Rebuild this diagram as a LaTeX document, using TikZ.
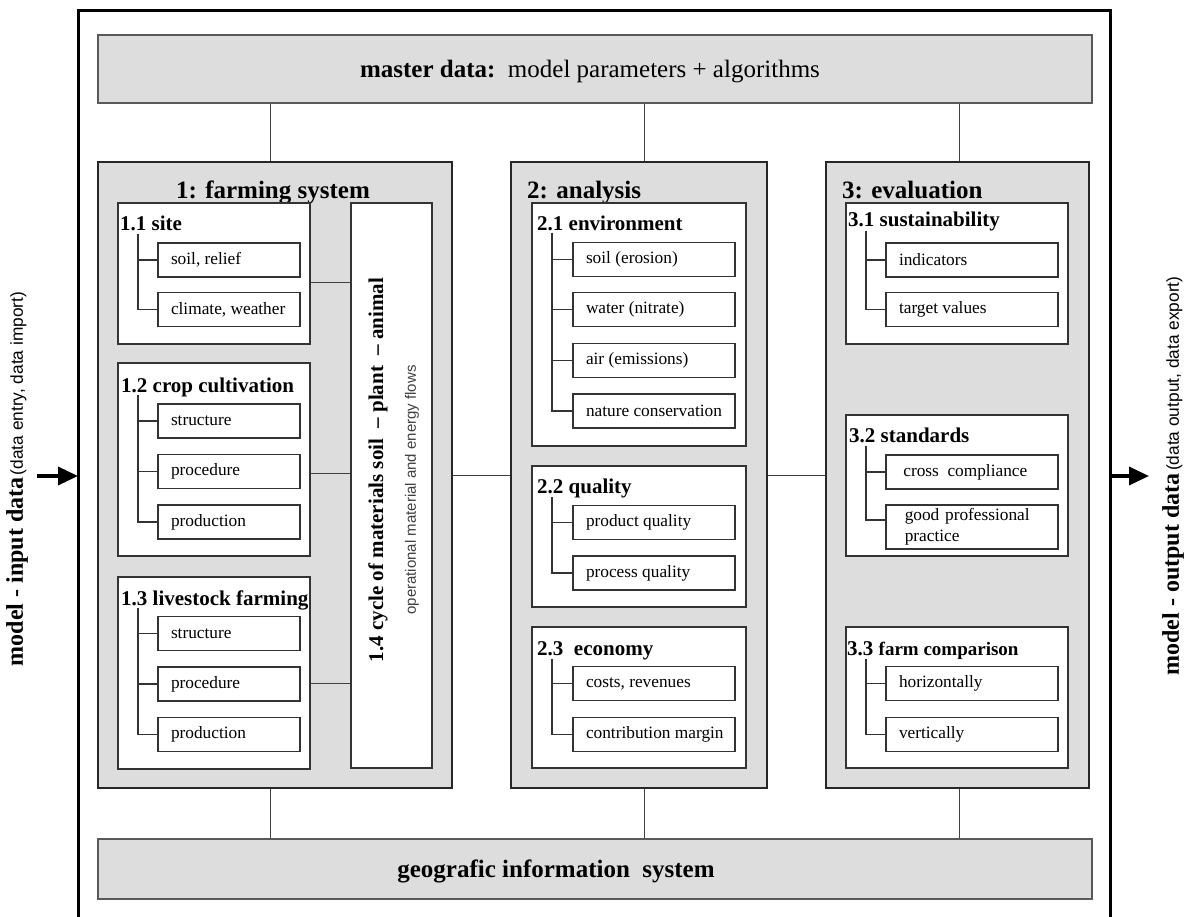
\documentclass[tikz,border=0pt]{standalone}
\usepackage{fontspec}
\setmainfont{Liberation Serif}
\newfontfamily\arialf{Liberation Sans}
\usetikzlibrary{arrows.meta,calc}
\definecolor{panel}{HTML}{DDDDDD}
\begin{document}
\begin{tikzpicture}[x=1pt,y=-1pt,
  panelbox/.style={draw=black!85, line width=2pt, fill=panel, inner sep=0pt},
  bandbox/.style={draw=black!65, line width=1.5pt, fill=panel, inner sep=0pt},
  groupbox/.style={draw=black!80, line width=1.3pt, fill=white, inner sep=0pt},
  itembox/.style={draw=black!80, line width=1.3pt, fill=white, inner xsep=13pt, inner ysep=0pt,
     minimum height=34pt, font=\fontsize{17.3}{20}\selectfont},
  itemA/.style={itembox, minimum width=142pt},
  itemB/.style={itembox, minimum width=162pt},
  itemC/.style={itembox, minimum width=172pt},
  grouptitle/.style={anchor=base west, inner sep=0pt, font=\bfseries\fontsize{21}{24}\selectfont},
  coltitle/.style={inner sep=0pt, font=\bfseries\fontsize{25}{30}\selectfont},
  conn/.style={draw=black!75, line width=1pt},
  tree/.style={draw=black!80, line width=1.2pt},
  bigarrow/.style={line width=3.5pt, -{Triangle[length=20pt,width=18pt]}},
]
\useasboundingbox (0,0) rectangle (1186,917);

% outer frame
\node[draw=black, line width=3pt, minimum width=1032pt, minimum height=929pt, inner sep=0pt] (frame) at (594,475.5) {};

% master data and GIS bands
\node[bandbox, minimum width=994pt, minimum height=68pt] (master) at (595,69) {};
\node[inner sep=0pt, anchor=base, font=\fontsize{25}{30}\selectfont] (mastertxt) at (590,78) {\textbf{master data:}\ \ model parameters + algorithms};
\node[bandbox, minimum width=994pt, minimum height=60pt] (gis) at (595,869) {};
\node[coltitle, anchor=base] (gistxt) at (556,877) {geografic information\ \ system};

% columns
\node[panelbox, minimum width=354pt, minimum height=626pt] (c1) at (275,475) {};
\node[panelbox, minimum width=256pt, minimum height=626pt] (c2) at (639,475) {};
\node[panelbox, minimum width=263pt, minimum height=626pt] (c3) at (957.5,475) {};
\node[coltitle, anchor=base] (c1t) at (273,199) {1: farming system};
\node[coltitle, anchor=base west] (c2t) at (527,199) {2: analysis};
\node[coltitle, anchor=base west] (c3t) at (842,199) {3: evaluation};

% connectors master / gis / columns
\draw[conn] ([xshift=-5pt]c1.north) -- ([xshift=-5pt]c1.north |- master.south);
\draw[conn] ([xshift=5pt]c2.north) -- ([xshift=5pt]c2.north |- master.south);
\draw[conn] ([xshift=1.5pt]c3.north) -- ([xshift=1.5pt]c3.north |- master.south);
\draw[conn] ([xshift=-5pt]c1.south) -- ([xshift=-5pt]c1.south |- gis.north);
\draw[conn] ([xshift=5pt]c2.south) -- ([xshift=5pt]c2.south |- gis.north);
\draw[conn] ([xshift=1.5pt]c3.south) -- ([xshift=1.5pt]c3.south |- gis.north);
\draw[conn] (c1.east) -- (c2.west);
\draw[conn] (c2.east) -- (c3.west);

% ---------- column 1 ----------
\node[groupbox, minimum width=192pt, minimum height=141pt] (g11) at (214,273.5) {};
\node[groupbox, minimum width=192pt, minimum height=193pt] (g12) at (214,459.5) {};
\node[groupbox, minimum width=192pt, minimum height=192pt] (g13) at (214,673) {};
\node[groupbox, minimum width=81pt, minimum height=565pt] (g14) at (391.5,485.5) {};

\node[grouptitle] (t11) at (120,231) {1.1 site};
\node[grouptitle] (t12) at (121,392) {1.2 crop cultivation};
\node[grouptitle] (t13) at (121,605) {1.3 livestock farming};

\node[itemA] (s11a) at (229,260) {\makebox[116pt][l]{soil, relief}};
\node[itemA] (s11b) at (229,309.5) {\makebox[116pt][l]{climate, weather}};
\node[itemA] (s12a) at (229,421) {\makebox[116pt][l]{structure}};
\node[itemA] (s12b) at (229,471.5) {\makebox[116pt][l]{procedure}};
\node[itemA] (s12c) at (229,522) {\makebox[116pt][l]{production}};
\node[itemA] (s13a) at (229,633.5) {\makebox[116pt][l]{structure}};
\node[itemA] (s13b) at (229,684) {\makebox[116pt][l]{procedure}};
\node[itemA] (s13c) at (229,734.5) {\makebox[116pt][l]{production}};

\coordinate (r11) at (138,234);
\coordinate (r12) at (138,395);
\coordinate (r13) at (138,608);
\draw[tree] (r11) |- (s11a.west); \draw[tree] (r11) |- (s11b.west);
\draw[tree] (r12) |- (s12a.west); \draw[tree] (r12) |- (s12b.west); \draw[tree] (r12) |- (s12c.west);
\draw[tree] (r13) |- (s13a.west); \draw[tree] (r13) |- (s13b.west); \draw[tree] (r13) |- (s13c.west);

\draw[conn] ([yshift=-9.5pt]g11.east) -- ([yshift=-9.5pt]g11.east -| g14.west);
\draw[conn] ([yshift=-13.5pt]g12.east) -- ([yshift=-13.5pt]g12.east -| g14.west);
\draw[conn] ([yshift=-10pt]g13.east) -- ([yshift=-10pt]g13.east -| g14.west);

\node[rotate=90, inner sep=0pt, font=\bfseries\fontsize{21}{24}\selectfont] (g14a) at (378,470)
  {1.4 cycle of materials soil\ \ --\ plant\ \ --\ animal};
\node[rotate=90, inner sep=0pt, text=black!75, font=\arialf\fontsize{15}{18}\selectfont] (g14b) at (412,490)
  {operational material and energy flows};

% ---------- column 2 ----------
\node[groupbox, minimum width=214pt, minimum height=243pt] (g21) at (639,324.5) {};
\node[groupbox, minimum width=214pt, minimum height=141pt] (g22) at (639,536.5) {};
\node[groupbox, minimum width=214pt, minimum height=141pt] (g23) at (639,697.5) {};

\node[grouptitle] (t21) at (537,231) {2.1 environment};
\node[grouptitle] (t22) at (537,493) {2.2 quality};
\node[grouptitle] (t23) at (537,655) {2.3\ \ economy};

\node[itemB] (s21a) at (654,259.5) {\makebox[136pt][l]{soil (erosion)}};
\node[itemB] (s21b) at (654,309.5) {\makebox[136pt][l]{water (nitrate)}};
\node[itemB] (s21c) at (654,360.5) {\makebox[136pt][l]{air (emissions)}};
\node[itemB] (s21d) at (654,411) {\makebox[136pt][l]{nature conservation}};
\node[itemB] (s22a) at (654,522.5) {\makebox[136pt][l]{product quality}};
\node[itemB] (s22b) at (654,573) {\makebox[136pt][l]{process quality}};
\node[itemB] (s23a) at (654,683.5) {\makebox[136pt][l]{costs, revenues}};
\node[itemB] (s23b) at (654,734.5) {\makebox[136pt][l]{contribution margin}};

\coordinate (r21) at (552,233);
\coordinate (r22) at (552,497);
\coordinate (r23) at (552,659);
\draw[tree] (r21) |- (s21a.west); \draw[tree] (r21) |- (s21b.west); \draw[tree] (r21) |- (s21c.west); \draw[tree] (r21) |- (s21d.west);
\draw[tree] (r22) |- (s22a.west); \draw[tree] (r22) |- (s22b.west);
\draw[tree] (r23) |- (s23a.west); \draw[tree] (r23) |- (s23b.west);

% ---------- column 3 ----------
\node[groupbox, minimum width=222pt, minimum height=141pt] (g31) at (957,273.5) {};
\node[groupbox, minimum width=222pt, minimum height=141pt] (g32) at (957,485.5) {};
\node[groupbox, minimum width=222pt, minimum height=141pt] (g33) at (957,697.5) {};

\node[grouptitle] (t31) at (848,227) {3.1 sustainability};
\node[grouptitle] (t32) at (849,442) {3.2 standards};
\node[grouptitle] (t33) at (847,655) {3.3 {\fontsize{19}{22}\selectfont farm comparison}};

\node[itemC] (s31a) at (972,260) {\makebox[146pt][l]{indicators}};
\node[itemC] (s31b) at (972,309.5) {\makebox[146pt][l]{target values}};
\node[itemC] (s32a) at (972,472) {\makebox[146pt][l]{\ cross\ \ compliance}};
\node[itemC, minimum height=44pt, text width=146pt, align=left, font=\fontsize{17.3}{21}\selectfont] (s32b) at (972,527) {\ good professional\\\ practice};
\node[itemC] (s33a) at (972,683.5) {\makebox[146pt][l]{horizontally}};
\node[itemC] (s33b) at (972,734.5) {\makebox[146pt][l]{vertically}};

\coordinate (r31) at (866,231);
\coordinate (r32) at (866,446);
\coordinate (r33) at (866,659);
\draw[tree] (r31) |- (s31a.west); \draw[tree] (r31) |- (s31b.west);
\draw[tree] (r32) |- (s32a.west); \draw[tree] (r32) |- ([yshift=7pt]s32b.west);
\draw[tree] (r33) |- (s33a.west); \draw[tree] (r33) |- (s33b.west);

% ---------- input / output ----------
\coordinate (inS) at (37,476);
\coordinate (inE) at (78,476);
\coordinate (outS) at (1110,476);
\coordinate (outE) at (1149,476);
\draw[bigarrow] (inS) -- (inE);
\draw[bigarrow] (outS) -- (outE);

\node[rotate=90, inner sep=0pt] (inlab) at (17,479)
  {{\bfseries\fontsize{24}{26}\selectfont model - input data}\ {\arialf\fontsize{17.3}{20}\selectfont (data entry, data import)}};
\node[rotate=90, inner sep=0pt] (outlab) at (1173,476)
  {{\bfseries\fontsize{24}{26}\selectfont model - output data}\ {\arialf\fontsize{17.3}{20}\selectfont (data output, data export)}};
\end{tikzpicture}
\end{document}
